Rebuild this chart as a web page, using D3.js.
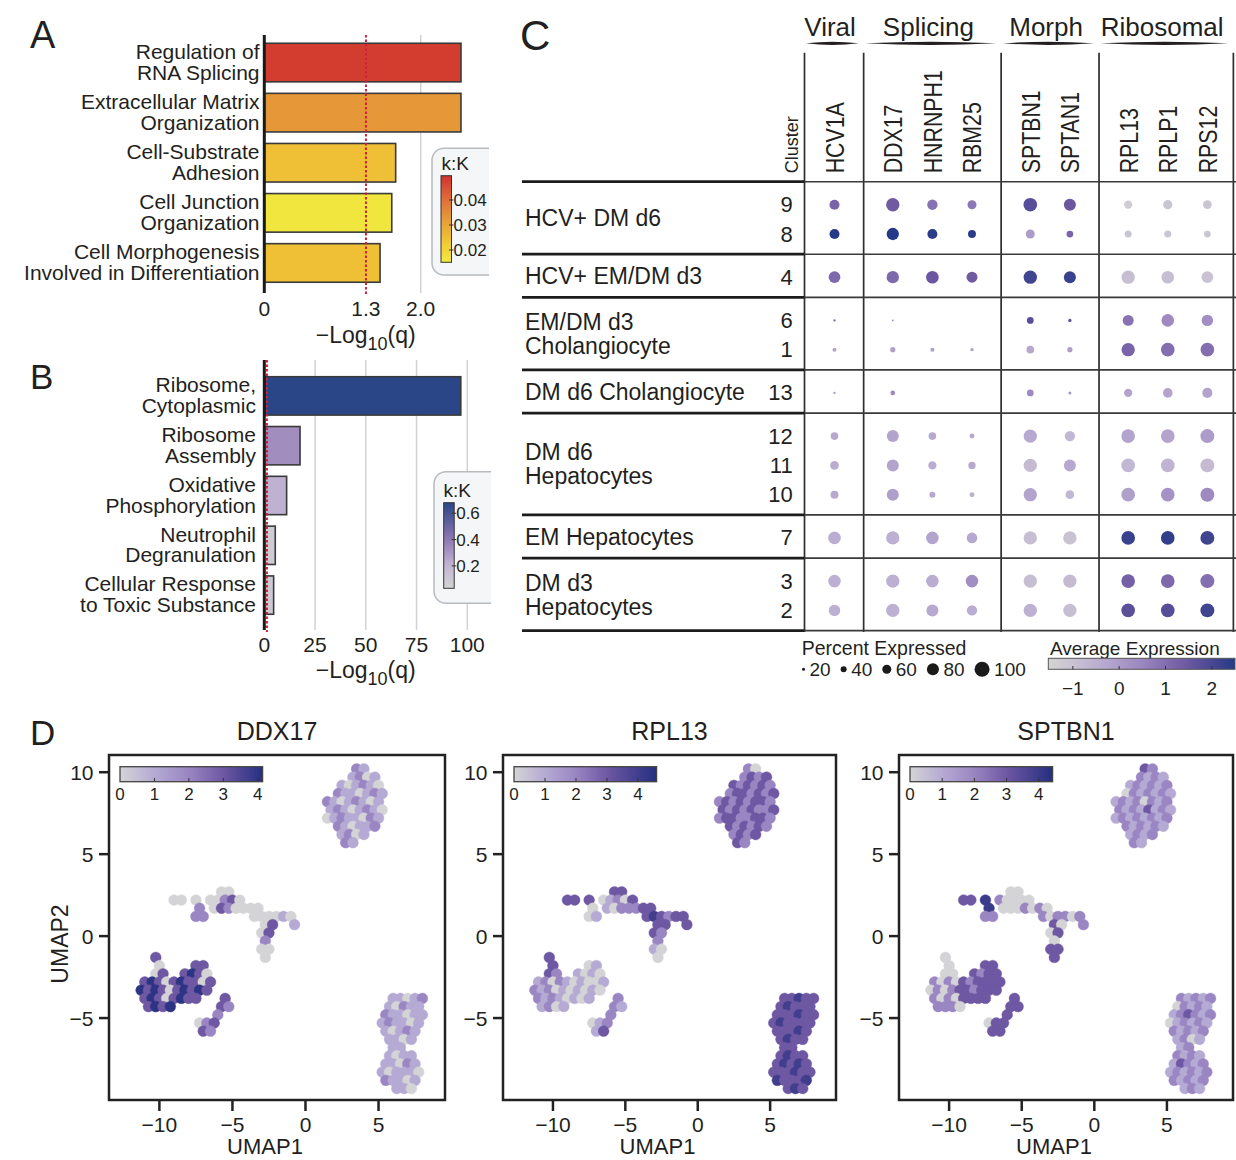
<!DOCTYPE html>
<html><head><meta charset="utf-8">
<script src="https://cdn.jsdelivr.net/npm/d3@7"></script>
<style>
body{margin:0;background:#fff;}
svg{display:block;font-family:"Liberation Sans",Arial,sans-serif;}
</style></head><body>
<svg id="fig" width="1236" height="1160"></svg>
<script>
// ================= DATA =================
// Panel A
const termsA = [["Regulation of","RNA Splicing"],["Extracellular Matrix","Organization"],["Cell-Substrate","Adhesion"],["Cell Junction","Organization"],["Cell Morphogenesis","Involved in Differentiation"]];
const qA = [2.515, 2.515, 1.68, 1.63, 1.48];
const kKA = [0.048, 0.033, 0.025, 0.016, 0.025];
const ticksA = [0, 1.3, 2.0];
const kKTicksA = [0.02, 0.03, 0.04];
// Panel B
const termsB = [["Ribosome,","Cytoplasmic"],["Ribosome","Assembly"],["Oxidative","Phosphorylation"],["Neutrophil","Degranulation"],["Cellular Response","to Toxic Substance"]];
const qB = [96.8, 17.6, 11.0, 5.4, 4.6];
const kKB = [0.68, 0.33, 0.22, 0.08, 0.09];
const ticksB = [0, 25, 50, 75, 100];
const kKTicksB = [0.2, 0.4, 0.6];
const qThreshold = 1.3;

// Panel C
const geneGroups = ["Viral","Splicing","Morph","Ribosomal"];
const genes = ["HCV1A","DDX17","HNRNPH1","RBM25","SPTBN1","SPTAN1","RPL13","RPLP1","RPS12"];
const geneGroupOf = [0,1,1,1,2,2,3,3,3];
const cellGroups = [["HCV+ DM d6"],["HCV+ EM/DM d3"],["EM/DM d3","Cholangiocyte"],["DM d6 Cholangiocyte"],["DM d6","Hepatocytes"],["EM Hepatocytes"],["DM d3","Hepatocytes"]];
const clusters = [9,8,4,6,1,13,12,11,10,7,3,2];
const clusterGroupOf = [0,0,1,2,2,3,4,4,4,5,6,6];
const pctExpressed = [
  [67,89,69,60,91,80,55,62,58],
  [67,82,67,53,60,45,47,47,45],
  [78,82,84,73,89,80,89,84,78],
  [15,12,0,0,45,22,73,84,76],
  [27,35,27,22,51,35,89,91,91],
  [15,31,0,0,45,20,55,64,67],
  [51,80,51,33,89,69,91,91,93],
  [58,80,55,49,89,80,91,91,93],
  [53,80,40,33,89,58,91,91,93],
  [84,89,84,71,89,89,91,91,93],
  [84,89,84,84,89,89,91,91,93],
  [76,89,80,69,89,89,91,91,93]
];
const avgExpression = [
  [1.2,1.4,0.9,0.8,1.8,1.5,-1.3,-1.1,-1.1],
  [2.5,2.5,2.4,2.4,0.0,1.2,-1.1,-1.1,-1.1],
  [1.1,1.1,1.5,1.4,2.1,2.2,-0.9,-0.9,-1.0],
  [1.2,0.3,0,0,1.8,1.7,0.9,0.4,0.3],
  [-0.2,-0.1,-0.1,-0.1,-0.3,-0.1,1.2,1.0,1.0],
  [0.2,0.4,0,0,0.4,0.2,-0.2,-0.2,-0.2],
  [-0.3,-0.2,-0.3,-0.3,-0.3,-0.7,-0.2,-0.2,0.0],
  [-0.4,-0.2,-0.4,-0.3,-0.8,-0.3,-0.7,-0.6,-0.8],
  [-0.3,-0.1,-0.3,-0.5,-0.2,-0.7,-0.1,0.2,0.4],
  [-0.4,-0.5,-0.2,-0.3,-0.9,-1.0,2.2,2.3,2.1],
  [-0.5,-0.5,-0.4,0.3,-0.9,-0.8,1.3,1.1,1.0],
  [-0.5,-0.5,-0.3,-0.4,-0.5,-0.9,1.7,1.8,2.1]
];
const pctLegend = [20,40,60,80,100];
const avgTicks = [-1,0,1,2];

// Panel D (UMAP) - hand-read raster of cells: [row, startCol, expression digits]
const umapGenes = ["DDX17","RPL13","SPTBN1"];
const ddx17Cells = [
 [0,30,"21"],[1,29,"1201"],[2,28,"101210"],[3,27,"2110121"],[4,26,"21012101"],[5,26,"12101210"],[6,26,"01211021"],[7,27,"210112"],[8,28,"1201"],[9,28,"21"],
 [15,11,"00"],[16,5,"00"],[16,8,"0"],[16,10,"00230"],[17,8,"2"],[17,10,"0320000"],[18,8,"22"],[18,16,"000010"],[19,17,"03"],[19,21,"1"],[20,17,"03"],[21,17,"2"],[22,17,"00"],[23,17,"0"],
 [23,2,"3"],[24,3,"0"],[24,8,"33"],[25,2,"03"],[25,6,"3430"],[26,1,"3430343303"],[27,0,"4343034343"],[28,1,"34303433"],[29,1,"3434"],
 [28,12,"3"],[29,11,"32"],[30,11,"2"],[31,8,"023"],[32,9,"32"],
 [28,35,"11012"],[29,34,"10211"],[30,34,"211011"],[31,33,"121101"],[32,34,"10121"],[33,34,"1101"],[34,35,"11"],
 [35,34,"1011"],[36,34,"11021"],[37,33,"101110"],[38,34,"21101"],[39,35,"110"]
];
const rpl13Cells = [
 [0,30,"20"],[1,29,"2323"],[2,28,"323232"],[3,27,"2332323"],[4,26,"23232332"],[5,26,"32323223"],[6,26,"23322332"],[7,27,"323232"],[8,28,"2323"],[9,28,"32"],
 [15,11,"33"],[16,5,"33"],[16,8,"3"],[16,10,"01203"],[17,8,"0"],[17,10,"1022233"],[18,8,"01"],[18,16,"343233"],[19,17,"33"],[19,21,"3"],[20,17,"32"],[21,17,"2"],[22,17,"10"],[23,17,"0"],
 [23,2,"3"],[24,3,"3"],[24,8,"01"],[25,2,"32"],[25,6,"1010"],[26,1,"1202101001"],[27,0,"2120101010"],[28,1,"21210101"],[29,1,"1201"],
 [28,12,"2"],[29,11,"21"],[30,11,"2"],[31,8,"012"],[32,9,"13"],
 [28,35,"33433"],[29,34,"34333"],[30,34,"333433"],[31,33,"343333"],[32,34,"33343"],[33,34,"3433"],[34,35,"33"],
 [35,34,"3433"],[36,34,"34343"],[37,33,"333433"],[38,34,"43334"],[39,35,"343"]
];
const sptbn1Cells = [
 [0,30,"32"],[1,29,"2121"],[2,28,"121212"],[3,27,"0212121"],[4,26,"12120212"],[5,26,"21213121"],[6,26,"12121212"],[7,27,"212121"],[8,28,"1212"],[9,28,"21"],
 [15,11,"00"],[16,5,"33"],[16,8,"4"],[16,10,"20000"],[17,8,"4"],[17,10,"0002020"],[18,8,"22"],[18,16,"202202"],[19,17,"30"],[19,21,"2"],[20,17,"03"],[21,17,"0"],[22,17,"33"],[23,17,"3"],
 [23,2,"0"],[24,3,"0"],[24,8,"33"],[25,2,"00"],[25,6,"3233"],[26,1,"2020323333"],[27,0,"0202332333"],[28,1,"20203333"],[29,1,"2220"],
 [28,12,"3"],[29,11,"33"],[30,11,"3"],[31,8,"033"],[32,9,"33"],
 [28,35,"21212"],[29,34,"02121"],[30,34,"123212"],[31,33,"012121"],[32,34,"21212"],[33,34,"1201"],[34,35,"12"],
 [35,34,"2121"],[36,34,"13212"],[37,33,"121212"],[38,34,"21212"],[39,35,"121"]
];
const umapCellSets = [ddx17Cells, rpl13Cells, sptbn1Cells];
const umapColorMax = [4.14, 4.6, 4.43];
const umapTicksX = [-10,-5,0,5];
const umapTicksY = [-5,0,5,10];
const umapColorTicks = [0,1,2,3,4];
// raster grid definition (UMAP units)
const gridX0 = -11.5, gridY0 = 10.2, gridStep = 0.5;

// ================= DRAWING =================
const svg = d3.select("#fig");
const INK = "#231f20";
const defs = svg.append("defs");

function condense(sel, f){
  sel.each(function(){
    const L = this.getComputedTextLength();
    this.setAttribute("textLength", L*f);
    this.setAttribute("lengthAdjust","spacingAndGlyphs");
  });
}
function label(t,x,y,size,anchor){
  return svg.append("text").attr("x",x).attr("y",y).attr("font-size",size)
    .attr("fill",INK).attr("text-anchor",anchor||"start").text(t);
}
function logTitle(x,y){
  const t = svg.append("text").attr("x",x).attr("y",y).attr("font-size",23).attr("fill",INK).attr("text-anchor","middle");
  t.append("tspan").text("\u2212Log");
  t.append("tspan").attr("font-size",18).attr("dy",7).text("10");
  t.append("tspan").attr("dy",-7).text("(q)");
}

// ---------- Panels A and B ----------
const colorA = d3.scaleLinear().domain([0.015,0.022,0.03,0.04,0.05])
  .range(["#f1ea40","#f3cd35","#e8a737","#e0703a","#d0302e"]).clamp(true);
const colorB = d3.scaleLinear().domain([0.03,0.2,0.4,0.68])
  .range(["#d3d3d3","#c3b7d4","#8f77b2","#2b4687"]).clamp(true);

function barPanel(c){
  const g = svg.append("g");
  const x = d3.scaleLinear().domain(c.xDom).range(c.xRange);
  const y = d3.scaleBand().domain(d3.range(c.q.length)).range([c.y0,c.y1]).paddingInner(0.23).paddingOuter(0.115);
  g.selectAll("line.grid").data(c.grid).join("line")
    .attr("x1",d=>x(d)).attr("x2",d=>x(d)).attr("y1",c.axTop).attr("y2",c.axBot)
    .attr("stroke","#cfd3d7").attr("stroke-width",1.5);
  g.selectAll("rect.bar").data(c.q).join("rect")
    .attr("x",x(0)).attr("y",(d,i)=>y(i)).attr("width",d=>x(d)-x(0)).attr("height",y.bandwidth())
    .attr("fill",(d,i)=>c.color(c.kK[i])).attr("stroke","#3a3a3a").attr("stroke-width",1.6);
  g.append("line").attr("x1",x(qThreshold)).attr("x2",x(qThreshold)).attr("y1",c.axTop).attr("y2",c.axBot+2)
    .attr("stroke","#d0213b").attr("stroke-width",2).attr("stroke-dasharray","2.5,2");
  g.append("line").attr("x1",x(0)).attr("x2",x(0)).attr("y1",c.axTop).attr("y2",c.axBot)
    .attr("stroke","#1a1a1a").attr("stroke-width",3);
  c.ticks.forEach(t=>{
    g.append("text").attr("x",x(t)).attr("y",c.tickY).attr("font-size",21).attr("fill",INK)
      .attr("text-anchor","middle").text(c.fmt(t));
  });
  c.terms.forEach((lines,i)=>{
    const cy = y(i)+y.bandwidth()/2;
    lines.forEach((ln,k)=>{
      g.append("text").attr("x",c.labelX).attr("y",cy-3.8+k*20.8).attr("font-size",21)
        .attr("fill",INK).attr("text-anchor","end").text(ln);
    });
  });
  // k:K legend
  const cid = "clip"+c.id;
  defs.append("clipPath").attr("id",cid).append("rect").attr("x",c.lgX-5).attr("y",0).attr("width",c.clipX-c.lgX+5).attr("height",1160);
  g.append("rect").attr("x",c.lgX).attr("y",c.lgY0).attr("width",90).attr("height",c.lgY1-c.lgY0).attr("rx",12)
    .attr("fill","#f5f6f7").attr("stroke","#b8bcc0").attr("stroke-width",1.5).attr("clip-path",`url(#${cid})`);
  g.append("text").attr("x",c.lgX+9.5).attr("y",c.titleY).attr("font-size",19).attr("fill",INK).text("k:K");
  const gid = "grad"+c.id;
  const cs = d3.scaleLinear().domain(c.cbDom).range([c.cbBot,c.cbTop]);
  const gr = defs.append("linearGradient").attr("id",gid).attr("x1",0).attr("y1",1).attr("x2",0).attr("y2",0);
  d3.range(0,1.0001,0.1).forEach(f=>{
    const v = c.cbDom[0]+f*(c.cbDom[1]-c.cbDom[0]);
    gr.append("stop").attr("offset",f).attr("stop-color",c.color(v));
  });
  g.append("rect").attr("x",c.cbX).attr("y",c.cbTop).attr("width",10.5).attr("height",c.cbBot-c.cbTop)
    .attr("fill",`url(#${gid})`).attr("stroke","#333").attr("stroke-width",1);
  c.kKTicks.forEach(t=>{
    g.append("line").attr("x1",c.cbX+8).attr("x2",c.cbX+12.5).attr("y1",cs(t)).attr("y2",cs(t)).attr("stroke","#333").attr("stroke-width",1);
    g.append("text").attr("x",c.cbX+12.5).attr("y",cs(t)+6).attr("font-size",17).attr("fill",INK).text(c.kFmt(t));
  });
}

barPanel({id:"A", terms:termsA, q:qA, kK:kKA, color:colorA, xDom:[0,2], xRange:[264.3,420.7],
  y0:37.5, y1:288, axTop:35, axBot:293, grid:[2], ticks:ticksA, fmt:d=>d===0?"0":d3.format(".1f")(d),
  tickY:316, labelX:259.5, lgX:432, lgY0:148.3, lgY1:275, clipX:489, titleY:170,
  cbX:441, cbTop:175.7, cbBot:262.3, cbDom:[0.0151,0.0497], kKTicks:kKTicksA, kFmt:d3.format(".2f")});
logTitle(365.7,343);
barPanel({id:"B", terms:termsB, q:qB, kK:kKB, color:colorB, xDom:[0,100], xRange:[264.3,467.3],
  y0:371, y1:620, axTop:360, axBot:630, grid:[25,50,75,100], ticks:ticksB, fmt:d=>String(d),
  tickY:652, labelX:256, lgX:434, lgY0:471.7, lgY1:603.3, clipX:491, titleY:496.7,
  cbX:443.7, cbTop:502.7, cbBot:588.3, cbDom:[0.03,0.68], kKTicks:kKTicksB, kFmt:d3.format(".1f")});
logTitle(365.7,678);

label("A",30,48,38);
label("B",30,389,35);
label("C",520,50,42);
label("D",30,745,35);

// ---------- Panel C: dot plot ----------
const xDot = d3.scaleLinear().domain([0,1]).range([834.5,874.1]);
const yDot = d3.scaleLinear().domain([0,1]).range([204.7,234]);
const groupGapSlots = 0.472, rowGapSlots = 0.4744;
const geneX = genes.map((g,i)=>xDot(i+geneGroupOf[i]*groupGapSlots));
const rowY = clusters.map((c,i)=>yDot(i+clusterGroupOf[i]*rowGapSlots));
const rSize = d3.scaleLinear().domain([0,100]).range([0,7.5]);
const avgColor = d3.scaleLinear().domain([-1.5,-0.5,0.5,1.5,2.5])
  .range(["#d3d3d3","#bdb1d3","#9a86bf","#6b56a0","#243a86"]).clamp(true);

// vertical lines
const vLines = [geneX[0]-30];
for(let i=1;i<genes.length;i++){ if(geneGroupOf[i]!==geneGroupOf[i-1]) vLines.push((geneX[i-1]+geneX[i])/2); }
vLines.push(geneX[genes.length-1]+26);
svg.selectAll("line.vsep").data(vLines).join("line")
  .attr("x1",d=>d).attr("x2",d=>d).attr("y1",52.7).attr("y2",632)
  .attr("stroke","#2e2e2e").attr("stroke-width",1.7);

// group headers
geneGroups.forEach((name,g)=>{
  const L = vLines[g], R = vLines[g+1];
  const cx = (L+R)/2 - 4;
  svg.append("text").attr("x",cx).attr("y",36).attr("font-size",26).attr("fill",INK).attr("text-anchor","middle").text(name);
  const x0 = L+1.5, x1 = R-5, ym = 43.3, xm=(x0+x1)/2;
  svg.append("path").attr("d",`M${x0},${ym} Q${xm},${ym-3.2} ${x1},${ym} Q${xm},${ym+3.2} ${x0},${ym} Z`).attr("fill",INK);
});
// gene labels
const gl = svg.selectAll("text.gene").data(genes).join("text")
  .attr("transform",(d,i)=>`translate(${geneX[i]+9.5},173.3) rotate(-90)`)
  .attr("font-size",26).attr("fill",INK).text(d=>d);
condense(gl,0.82);
svg.append("text").attr("transform","translate(797.7,173.3) rotate(-90)").attr("font-size",18).attr("fill",INK).text("Cluster");

// row groups
const groupTops = [], groupBots = [];
cellGroups.forEach((lines,g)=>{
  const idx = clusterGroupOf.map((v,i)=>v===g?i:-1).filter(i=>i>=0);
  const top = rowY[idx[0]]-23, bot = rowY[idx[idx.length-1]]+20.2;
  groupTops.push(top); groupBots.push(bot);
  const cy = (top+bot)/2;
  lines.forEach((ln,k)=>{
    svg.append("text").attr("x",525).attr("y",cy+8.5+(k-(lines.length-1)/2)*24).attr("font-size",23).attr("fill",INK).text(ln);
  });
});
const hLines = groupTops.concat([groupBots[groupBots.length-1]]);
hLines.forEach(y=>{
  svg.append("line").attr("x1",522).attr("x2",vLines[0]).attr("y1",y).attr("y2",y).attr("stroke","#1c1c1c").attr("stroke-width",2.8);
  svg.append("line").attr("x1",vLines[0]).attr("x2",1236).attr("y1",y).attr("y2",y).attr("stroke","#3a3a3a").attr("stroke-width",1.6);
});
// cluster numbers
svg.selectAll("text.cl").data(clusters).join("text")
  .attr("x",792.7).attr("y",(d,i)=>rowY[i]+7.5).attr("font-size",22).attr("fill",INK).attr("text-anchor","end").text(d=>d);
// dots
const dots = [];
clusters.forEach((c,i)=>genes.forEach((gname,j)=>dots.push({x:geneX[j],y:rowY[i],p:pctExpressed[i][j],a:avgExpression[i][j]})));
svg.selectAll("circle.dot").data(dots.filter(d=>d.p>0)).join("circle")
  .attr("cx",d=>d.x).attr("cy",d=>d.y).attr("r",d=>rSize(d.p)).attr("fill",d=>avgColor(d.a));

// legends
label("Percent Expressed",801.7,655,19.5);
let cur = 802;
pctLegend.forEach(p=>{
  const r = rSize(p);
  svg.append("circle").attr("cx",cur+r).attr("cy",669.3).attr("r",r).attr("fill","#1a1a1a");
  const t = svg.append("text").attr("x",cur+2*r+4.5).attr("y",675.5).attr("font-size",19).attr("fill",INK).text(p);
  cur = cur+2*r+4.5+t.node().getComputedTextLength()+10;
});
label("Average Expression",1050,655,19);
const avgX = d3.scaleLinear().domain([-1.53,2.5]).range([1048.3,1235]);
const ag = defs.append("linearGradient").attr("id","gradAvg");
d3.range(0,1.0001,0.1).forEach(f=>ag.append("stop").attr("offset",f).attr("stop-color",avgColor(-1.53+f*4.03)));
svg.append("rect").attr("x",1048.3).attr("y",658.3).attr("width",186.7).attr("height",11).attr("fill","url(#gradAvg)").attr("stroke","#555").attr("stroke-width",1);
avgTicks.forEach(t=>{
  svg.append("line").attr("x1",avgX(t)).attr("x2",avgX(t)).attr("y1",666).attr("y2",669.3).attr("stroke","#333").attr("stroke-width",1);
  svg.append("text").attr("x",avgX(t)).attr("y",695).attr("font-size",19).attr("fill",INK).attr("text-anchor","middle").text(t<0?"\u2212"+Math.abs(t):t);
});

// ---------- Panel D: UMAPs ----------
const umapBoxX = [[109,445],[503,836],[899,1233]];
const umapTop = 755, umapBot = 1100;
umapGenes.forEach((gene,pi)=>{
  const [x0,x1] = umapBoxX[pi];
  const x = d3.scaleLinear().domain([-13.45,9.55]).range([x0,x1]);
  const y = d3.scaleLinear().domain([-10,11.05]).range([umapBot,umapTop]);
  const mx = umapColorMax[pi];
  const col = d3.scaleLinear().domain([0,1,2,3,mx]).range(["#d4d4d6","#b5aad4","#9a86c2","#6e57a3","#252f80"]).clamp(true);
  const g = svg.append("g");
  const pts = [];
  umapCellSets[pi].forEach(([r,c,s])=>{
    for(let k=0;k<s.length;k++){
      pts.push({ux:gridX0+gridStep*(c+k)+(r%2?gridStep/2:0), uy:gridY0-gridStep*r, v:+s[k]});
    }
  });
  g.selectAll("circle").data(pts).join("circle")
    .attr("cx",d=>x(d.ux)).attr("cy",d=>y(d.uy)).attr("r",5.4)
    .attr("fill",d=>col(d.v)).attr("stroke",d=>col(d.v)).attr("stroke-opacity",0.5).attr("stroke-width",0.8);
  g.append("rect").attr("x",x0).attr("y",umapTop).attr("width",x1-x0).attr("height",umapBot-umapTop)
    .attr("fill","none").attr("stroke","#222").attr("stroke-width",2.5);
  umapTicksY.forEach(t=>{
    g.append("line").attr("x1",x0).attr("x2",x0-10).attr("y1",y(t)).attr("y2",y(t)).attr("stroke","#222").attr("stroke-width",2.5);
    g.append("text").attr("x",x0-15.5).attr("y",y(t)+7.5).attr("font-size",21).attr("fill",INK).attr("text-anchor","end").text(t<0?"\u2212"+Math.abs(t):t);
  });
  umapTicksX.forEach(t=>{
    g.append("line").attr("x1",x(t)).attr("x2",x(t)).attr("y1",umapBot).attr("y2",umapBot+11).attr("stroke","#222").attr("stroke-width",2.5);
    g.append("text").attr("x",x(t)).attr("y",1131.7).attr("font-size",21).attr("fill",INK).attr("text-anchor","middle").text(t<0?"\u2212"+Math.abs(t):t);
  });
  g.append("text").attr("x",(x0+x1)/2).attr("y",740).attr("font-size",25).attr("fill",INK).attr("text-anchor","middle").text(gene);
  g.append("text").attr("x",(x0+x1)/2 - 12).attr("y",1154).attr("font-size",22).attr("fill",INK).attr("text-anchor","middle").text("UMAP1");
  // colorbar
  const cbX0 = x0+11, cbW = 142.6;
  const cbx = d3.scaleLinear().domain([0,mx]).range([cbX0,cbX0+cbW]);
  const gid = "gradU"+pi;
  const gr = defs.append("linearGradient").attr("id",gid);
  d3.range(0,1.0001,0.1).forEach(f=>gr.append("stop").attr("offset",f).attr("stop-color",col(f*mx)));
  g.append("rect").attr("x",cbX0).attr("y",766.7).attr("width",cbW).attr("height",15).attr("fill",`url(#${gid})`).attr("stroke","#444").attr("stroke-width",1.3);
  umapColorTicks.forEach(t=>{
    if(t>0) g.append("line").attr("x1",cbx(t)).attr("x2",cbx(t)).attr("y1",778).attr("y2",781.7).attr("stroke","#333").attr("stroke-width",1);
    g.append("text").attr("x",cbx(t)).attr("y",800).attr("font-size",17).attr("fill",INK).attr("text-anchor","middle").text(t);
  });
});
svg.append("text").attr("transform","translate(68,944) rotate(-90)").attr("font-size",23).attr("fill",INK).attr("text-anchor","middle").text("UMAP2");
</script>
</body></html>
